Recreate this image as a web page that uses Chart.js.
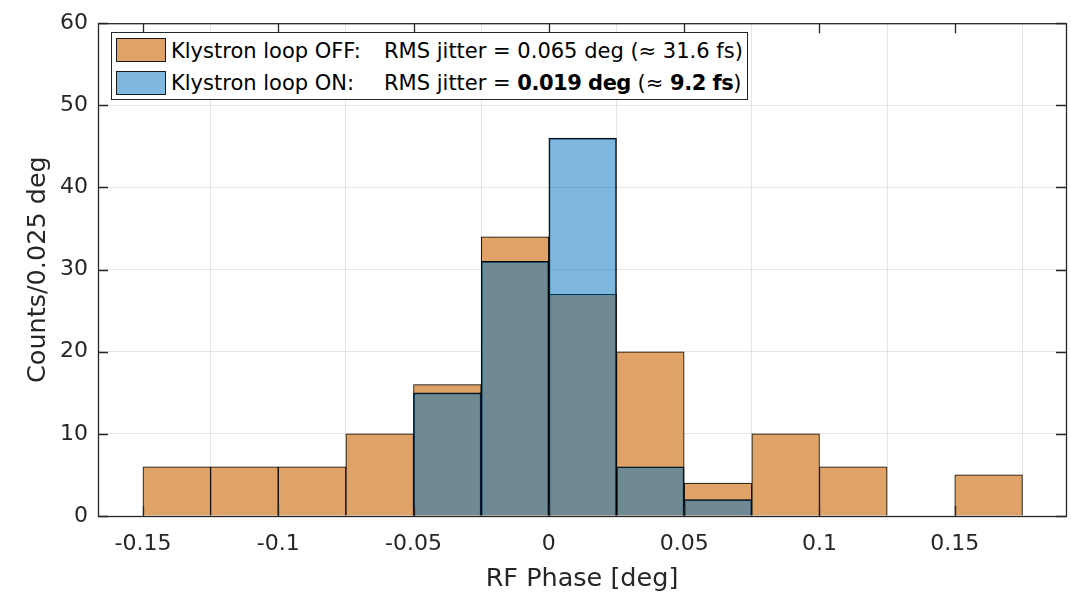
<!DOCTYPE html>
<html>
<head>
<meta charset="utf-8">
<script src="https://cdn.jsdelivr.net/npm/chart.js@4.4.1/dist/chart.umd.min.js"></script>
<style>
  html, body { margin: 0; padding: 0; background: #fff; }
  #wrap { position: relative; width: 1071px; height: 595px; font-family: "DejaVu Sans", sans-serif; color: #262626; }
  #chart { position: absolute; left: 0; top: 0; }
  #legend { position: absolute; left: 111px; top: 32px; width: 635px; height: 66px; border: 1px solid #262626; background: #fff; }
  .sw { position: absolute; left: 116px; width: 48px; height: 22px; border: 1px solid #1a1a1a; }
  .lt { position: absolute; font-size: 21px; line-height: 1; white-space: pre; color: #000; }
  .lt b { letter-spacing: -0.5px; }
</style>
</head>
<body>
<div id="wrap">
  <canvas id="chart" width="1071" height="595"></canvas>
  <div id="legend"></div>
  <div class="sw" style="top:38px;background:rgb(223,163,103);"></div>
  <div class="sw" style="top:71px;background:rgb(127,184,222);"></div>
  <div class="lt" style="left:171px;top:41px;">Klystron loop OFF:</div>
  <div class="lt" style="left:384px;top:41px;">RMS jitter = 0.065 deg (≈ 31.6 fs)</div>
  <div class="lt" style="left:171px;top:73px;">Klystron loop ON:</div>
  <div class="lt" style="left:384px;top:73px;">RMS jitter = <b>0.019 deg</b> (≈ <b>9.2 fs</b>)</div>
</div>
<script>
// histogram bins (0.025 deg wide), counts
const binCenters = [-0.1375, -0.1125, -0.0875, -0.0625, -0.0375, -0.0125, 0.0125, 0.0375, 0.0625, 0.0875, 0.1125, 0.1375, 0.1625];
const offCounts = [6, 6, 6, 10, 16, 34, 27, 20, 4, 10, 6, 0, 5];
const onCounts = [0, 0, 0, 0, 15, 31, 46, 6, 2, 0, 0, 0, 0];
const xTicks = [-0.15, -0.1, -0.05, 0, 0.05, 0.1, 0.15];
const yTicks = [0, 10, 20, 30, 40, 50, 60];

const FONT = "DejaVu Sans";
const AXIS = "#262626";

const toPoints = (counts) => binCenters.map((x, i) => ({ x: x, y: counts[i] ? counts[i] : null }));

// MATLAB-like box with inward ticks on all four sides
const framePlugin = {
  id: "frame",
  afterDraw(chart) {
    const { ctx, chartArea: a, scales } = chart;
    ctx.save();
    ctx.strokeStyle = AXIS;
    ctx.lineWidth = 1.3;
    ctx.beginPath();
    xTicks.forEach((v) => {
      const px = Math.round(scales.x.getPixelForValue(v)) + 0.5;
      ctx.moveTo(px, a.bottom); ctx.lineTo(px, a.bottom - 10);
      ctx.moveTo(px, a.top); ctx.lineTo(px, a.top + 10);
    });
    yTicks.forEach((v) => {
      const py = Math.round(scales.y.getPixelForValue(v)) + 0.5;
      ctx.moveTo(a.left, py); ctx.lineTo(a.left + 10, py);
      ctx.moveTo(a.right, py); ctx.lineTo(a.right - 10, py);
    });
    ctx.stroke();
    ctx.strokeRect(a.left + 0.5, a.top + 0.5, a.right - a.left, a.bottom - a.top);
    ctx.restore();
  }
};

new Chart(document.getElementById("chart"), {
  type: "bar",
  data: {
    datasets: [
      { label: "Klystron loop OFF", data: toPoints(offCounts), backgroundColor: "rgb(223,163,103)", borderColor: "#000", borderWidth: 1, order: 2 },
      { label: "Klystron loop ON", data: toPoints(onCounts), backgroundColor: "rgba(0,114,189,0.5)", borderColor: "#000", borderWidth: 1, order: 1 }
    ]
  },
  options: {
    responsive: false,
    animation: false,
    events: [],
    layout: { padding: { top: 20, right: 5, left: 0, bottom: 0 } },
    datasets: { bar: { barPercentage: 1, categoryPercentage: 1, grouped: false } },
    plugins: { legend: { display: false }, tooltip: { enabled: false } },
    scales: {
      x: {
        type: "linear", min: -0.1666, max: 0.1911, offset: false, z: 1,
        afterBuildTicks: (s) => { s.ticks = xTicks.map((v) => ({ value: v })); },
        afterFit: (s) => { s.height = 79; },
        grid: { color: "rgba(0,0,0,0.1)", drawTicks: false },
        border: { display: false },
        ticks: { padding: 15, color: AXIS, font: { family: FONT, size: 22 }, maxRotation: 0, autoSkip: false,
          callback: (v) => String(+Number(v).toFixed(3)) },
        title: { display: true, text: "RF Phase [deg]", color: AXIS, font: { family: FONT, size: 25.5 }, padding: { top: 0, bottom: 0 } }
      },
      y: {
        min: 0, max: 60, z: 1,
        afterBuildTicks: (s) => { s.ticks = yTicks.map((v) => ({ value: v })); },
        afterFit: (s) => { s.width = 98; },
        grid: { color: "rgba(0,0,0,0.1)", drawTicks: false },
        border: { display: false },
        ticks: { padding: 10, color: AXIS, font: { family: FONT, size: 22 } },
        title: { display: true, text: "Counts/0.025 deg", color: AXIS, font: { family: FONT, size: 25.5 }, padding: { top: 23, bottom: 0 } }
      }
    }
  },
  plugins: [framePlugin]
});
</script>
</body>
</html>
